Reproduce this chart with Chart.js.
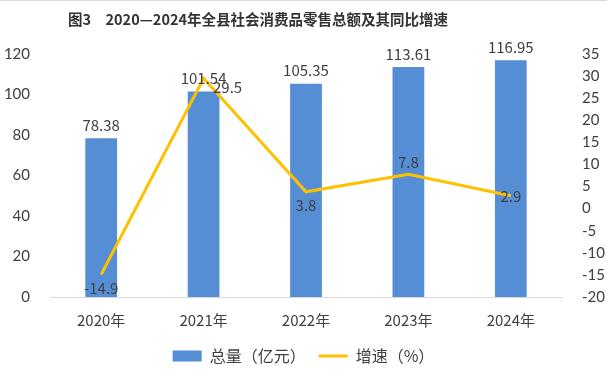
<!DOCTYPE html>
<html>
<head>
<meta charset="utf-8">
<script src="https://cdn.jsdelivr.net/npm/chart.js@4"></script>
<style>
  html, body { margin: 0; padding: 0; background: #fff; }
  #wrap { width: 607px; height: 384px; box-sizing: border-box; border-top: 1px solid #d9d9d9; }
</style>
</head>
<body>
<div id="wrap"><canvas id="chart" width="607" height="383"></canvas></div>
<script>
// 数据
const years = ['2020年', '2021年', '2022年', '2023年', '2024年'];
const totals = [78.38, 101.54, 105.35, 113.61, 116.95];
const growth = [-14.9, 29.5, 3.8, 7.8, 2.9];
const titleText = '图3　2020—2024年全县社会消费品零售总额及其同比增速';

const fontFamily = "'Noto Sans CJK SC', 'Noto Sans', sans-serif";
const textColor = '#404040';

// 数据标签偏移 (x, y)
const lineLabelOffsets = [[0, 14], [24, 9], [0, 13], [0, -12], [0, 0]];

const labelPlugin = {
    id: 'valueLabels',
    beforeDraw(chart) {
        // 标题（原图略偏左）
        const ctx = chart.ctx;
        ctx.save();
        ctx.font = 'bold 14.5px ' + fontFamily;
        ctx.fillStyle = '#333333';
        ctx.textAlign = 'center';
        ctx.textBaseline = 'middle';
        ctx.fillText(titleText, 258, 18);
        ctx.restore();
    },
    afterDatasetsDraw(chart) {
        const ctx = chart.ctx;
        ctx.save();
        ctx.font = '15px ' + fontFamily;
        ctx.fillStyle = textColor;
        ctx.textAlign = 'center';
        ctx.textBaseline = 'middle';
        chart.getDatasetMeta(0).data.forEach((bar, i) => {
            ctx.fillText(totals[i].toFixed(2), bar.x, bar.y - 13);
        });
        chart.getDatasetMeta(1).data.forEach((pt, i) => {
            const o = lineLabelOffsets[i];
            ctx.fillText(String(growth[i]), pt.x + o[0], pt.y + o[1]);
        });
        ctx.restore();
    }
};

const ctx = document.getElementById('chart').getContext('2d');
const chart = new Chart(ctx, {
    data: {
        labels: years,
        datasets: [{
            type: 'bar',
            label: '总量（亿元）',
            data: totals,
            backgroundColor: '#558ED5',
            yAxisID: 'y',
            categoryPercentage: 1,
            barPercentage: 0.31,
            pointStyle: 'rect',
            order: 2
        }, {
            type: 'line',
            label: '增速（%）',
            data: growth,
            borderColor: '#FFC000',
            backgroundColor: '#FFC000',
            borderWidth: 3,
            pointRadius: 0,
            tension: 0,
            yAxisID: 'y1',
            pointStyle: 'line',
            order: 1
        }]
    },
    options: {
        responsive: false,
        animation: false,
        layout: { padding: { left: 0, right: 0, top: 53, bottom: 10 } },
        plugins: {
            title: { display: false },
            legend: {
                position: 'bottom',
                labels: {
                    usePointStyle: true,
                    pointStyleWidth: 29,
                    boxHeight: 11,
                    color: textColor,
                    font: { family: fontFamily, size: 16 },
                    padding: 13,
                    sort: (a, b) => a.datasetIndex - b.datasetIndex
                }
            },
            tooltip: { enabled: false }
        },
        scales: {
            x: {
                grid: { display: false },
                border: { display: true, color: '#d9d9d9' },
                ticks: { color: textColor, font: { family: fontFamily, size: 15 }, padding: 6 }
            },
            y: {
                position: 'left',
                min: 0, max: 120,
                ticks: { stepSize: 20, color: textColor, font: { family: 'Lato, sans-serif', size: 15 }, padding: 12 },
                grid: { display: false },
                border: { display: false },
                afterFit(scale) { scale.width = 50; }
            },
            y1: {
                position: 'right',
                min: -20, max: 35,
                ticks: { stepSize: 5, color: textColor, font: { family: 'Lato, sans-serif', size: 15 }, padding: 12 },
                grid: { display: false },
                border: { display: false },
                afterFit(scale) { scale.width = 45; }
            }
        }
    },
    plugins: [labelPlugin]
});
</script>
</body>
</html>
